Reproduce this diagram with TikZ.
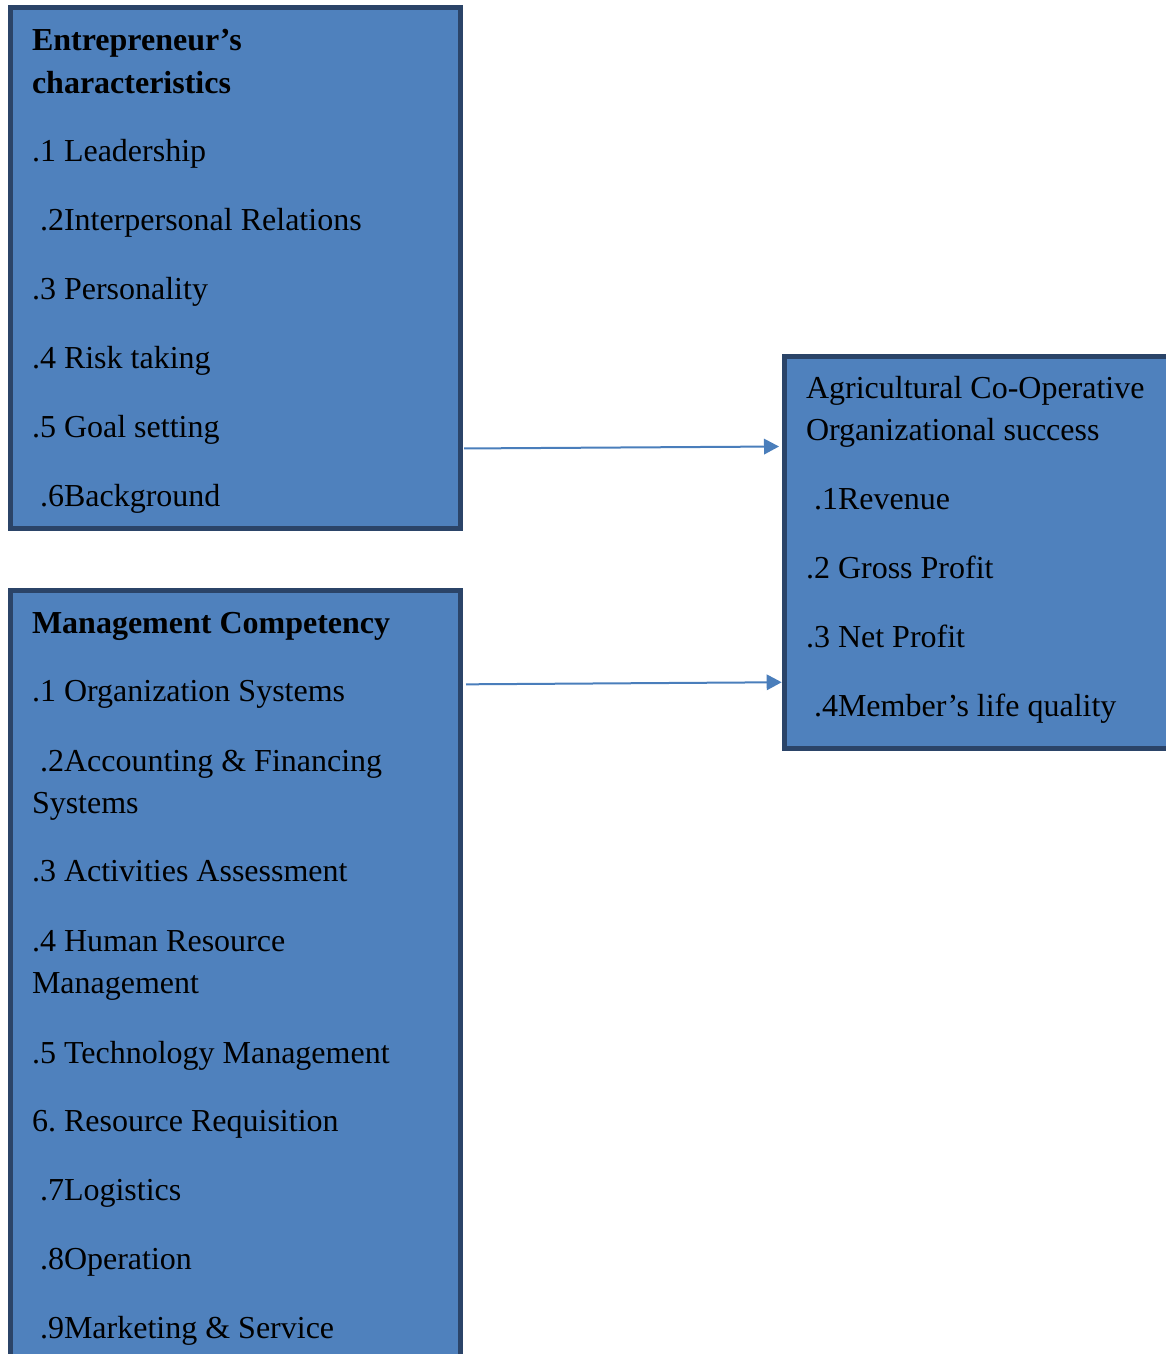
\documentclass[tikz,border=0pt]{standalone}
\usepackage{fontspec}
\setmainfont{Liberation Serif}
\usetikzlibrary{arrows.meta,calc}
\frenchspacing

\definecolor{boxfill}{HTML}{4F81BD}
\definecolor{boxline}{HTML}{2B4468}
\definecolor{linkblue}{HTML}{4A7EBB}

\tikzset{
  panel/.style={draw=boxline, line width=5pt, fill=boxfill, inner sep=0pt,
                outer sep=0pt, anchor=north west},
  item/.style={anchor=base west, inner sep=0pt, outer sep=0pt, text=black,
               font=\fontsize{32}{42}\selectfont},
  head/.style={item, font=\fontsize{32}{42}\selectfont\bfseries},
  link/.style={draw=linkblue, line width=2pt,
               -{Triangle[length=15pt,width=15.5pt]}}
}

\begin{document}
\begin{tikzpicture}[x=1pt,y=-1pt]
  \clip (0,0) rectangle (1166,1354);

  % the three panels
  \node[panel, minimum width=450.5pt, minimum height=521pt] (ent) at (10,7.5) {};
  \node[panel, minimum width=450.5pt, minimum height=809.5pt] (mgt) at (10,590.5) {};
  \node[panel, minimum width=395.8pt, minimum height=392pt] (suc) at (784.2,356.5) {};

  % entrepreneur's characteristics
  \node[head] (e0a) at (32,51) {Entrepreneur’s};
  \node[head] (e0b) at (32,93) {characteristics};
  \node[item] (e1) at (32,161) {.1 Leadership};
  \node[item] (e2) at (32,230) {\ .2Interpersonal Relations};
  \node[item] (e3) at (32,299) {.3 Personality};
  \node[item] (e4) at (32,368) {.4 Risk taking};
  \node[item] (e5) at (32,437) {.5 Goal setting};
  \node[item] (e6) at (32,506) {\ .6Background};

  % management competency
  \node[head] (m0) at (32,633) {Management Competency};
  \node[item] (m1) at (32,701) {.1 Organization Systems};
  \node[item] (m2a) at (32,771) {\ .2Accounting \& Financing};
  \node[item] (m2b) at (32,813) {Systems};
  \node[item] (m3) at (32,881) {.3 Activities Assessment};
  \node[item] (m4a) at (32,951) {.4 Human Resource};
  \node[item] (m4b) at (32,993) {Management};
  \node[item] (m5) at (32,1063) {.5 Technology Management};
  \node[item] (m6) at (32,1131) {6. Resource Requisition};
  \node[item] (m7) at (32,1200) {\ .7Logistics};
  \node[item] (m8) at (32,1269) {\ .8Operation};
  \node[item] (m9) at (32,1338) {\ .9Marketing \& Service};

  % organizational success
  \node[item] (s0a) at (806,398) {Agricultural Co-Operative};
  \node[item] (s0b) at (806,440) {Organizational success};
  \node[item] (s1) at (806,509) {\ .1Revenue};
  \node[item] (s2) at (806,578) {.2 Gross Profit};
  \node[item] (s3) at (806,647) {.3 Net Profit};
  \node[item] (s4) at (806,716) {\ .4Member’s life quality};

  % connectors
  \draw[link] ([xshift=3.5pt]$(ent.north east)!0.8464!(ent.south east)$)
           -- ([xshift=-5.2pt]$(suc.north west)!0.2296!(suc.south west)$);
  \draw[link] ([xshift=5.5pt]$(mgt.north east)!0.1159!(mgt.south east)$)
           -- ([xshift=-2.5pt]$(suc.north west)!0.831!(suc.south west)$);
\end{tikzpicture}
\end{document}
